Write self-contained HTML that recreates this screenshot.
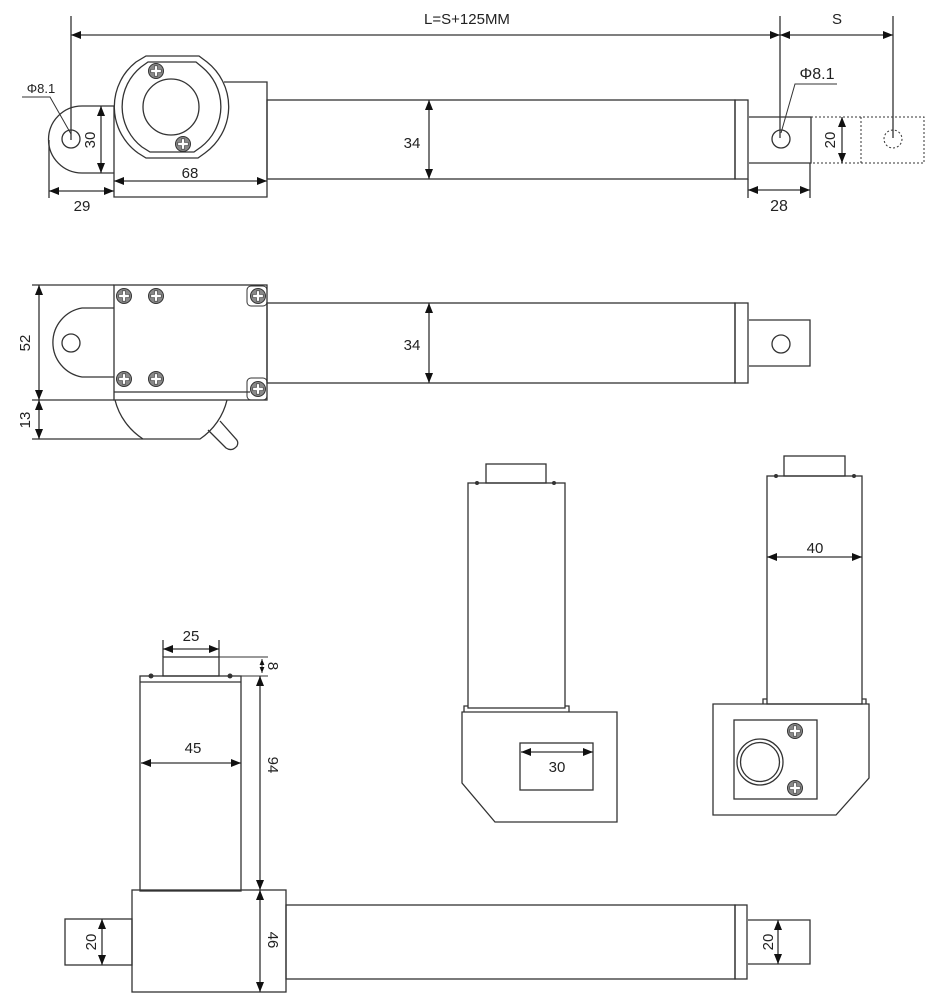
<!DOCTYPE html>
<html><head><meta charset="utf-8"><style>
html,body{margin:0;padding:0;background:#fff;}
svg{display:block;}
text{font-family:"Liberation Sans",Arial,sans-serif;fill:#222;}
</style></head><body>
<svg width="940" height="1000" viewBox="0 0 940 1000" xmlns="http://www.w3.org/2000/svg">
<defs>
<marker id="a" viewBox="0 0 10 8" refX="10" refY="4" markerWidth="10" markerHeight="8" markerUnits="userSpaceOnUse" orient="auto-start-reverse"><path d="M0,0L10,4L0,8z" fill="#111"/></marker>
<marker id="s" viewBox="0 0 10 8" refX="10" refY="4" markerWidth="6" markerHeight="5" markerUnits="userSpaceOnUse" orient="auto-start-reverse"><path d="M0,0L10,4L0,8z" fill="#111"/></marker>
<g id="sc"><circle r="7.5" fill="#888" stroke="#333" stroke-width="1"/><path d="M-1.5,-5.2h3v3.7h3.7v3h-3.7v3.7h-3v-3.7h-3.7v-3h3.7z" fill="#fff" stroke="#333" stroke-width="0.6"/></g>
</defs>
<g fill="none" stroke="#333" stroke-width="1.3">
<!-- TOP VIEW -->
<line x1="71" y1="16" x2="71" y2="140"/>
<line x1="780" y1="16" x2="780" y2="138"/>
<line x1="893" y1="16" x2="893" y2="138"/>
<line x1="71" y1="35" x2="780" y2="35" marker-start="url(#a)" marker-end="url(#a)"/>
<line x1="780" y1="35" x2="893" y2="35" marker-start="url(#a)" marker-end="url(#a)"/>
<path d="M114,106H82A33,33 0 0 0 82,173H114"/>
<circle cx="71" cy="139" r="9"/>
<path d="M146,56H199L207,62A57,57 0 0 1 205,153L198,158H146L138,153A57,57 0 0 1 136,62Z"/>
<path d="M148,62H196L202,67A51,51 0 0 1 201,147L194,152H150L142,147A51,51 0 0 1 141,67Z"/>
<circle cx="171" cy="107" r="28"/>
<path d="M224,82H267V197H114V106"/>
<rect x="267" y="100" width="468" height="79"/>
<rect x="735" y="100" width="13" height="79"/>
<path d="M749,117H811V163H749"/>
<circle cx="781" cy="139" r="9"/>
<g stroke-dasharray="2,2" stroke-width="1"><path d="M811,117H924V163H811M861,117V163"/><circle cx="893" cy="139" r="9"/></g>
<line x1="429" y1="100" x2="429" y2="179" marker-start="url(#a)" marker-end="url(#a)"/>
<line x1="101" y1="106" x2="101" y2="173" marker-start="url(#a)" marker-end="url(#a)"/>
<line x1="114" y1="181" x2="267" y2="181" marker-start="url(#a)" marker-end="url(#a)"/>
<line x1="49" y1="140" x2="49" y2="198"/>
<line x1="49" y1="191" x2="114" y2="191" marker-start="url(#a)" marker-end="url(#a)"/>
<line x1="748" y1="179" x2="748" y2="198"/><line x1="810" y1="163" x2="810" y2="198"/>
<line x1="748" y1="190" x2="810" y2="190" marker-start="url(#a)" marker-end="url(#a)"/>
<line x1="842" y1="117" x2="842" y2="163" marker-start="url(#a)" marker-end="url(#a)"/>
<path d="M22,97H50L71,134" stroke-width="1"/>
<path d="M837,84H795L781,133" stroke-width="1"/>
<!-- SECOND VIEW -->
<rect x="114" y="285" width="153" height="115"/>
<line x1="114" y1="392" x2="250" y2="392"/>
<path d="M114,308H82A35,35 0 0 0 82,377H114"/>
<circle cx="71" cy="343" r="9"/>
<rect x="267" y="303" width="468" height="80"/>
<rect x="735" y="303" width="13" height="80"/>
<path d="M749,320H810V366H749"/>
<circle cx="781" cy="344" r="9"/>
<line x1="429" y1="303" x2="429" y2="383" marker-start="url(#a)" marker-end="url(#a)"/>
<line x1="32" y1="285" x2="114" y2="285"/>
<line x1="32" y1="400" x2="114" y2="400"/>
<line x1="32" y1="439" x2="143" y2="439"/>
<line x1="39" y1="285" x2="39" y2="400" marker-start="url(#a)" marker-end="url(#a)"/>
<line x1="39" y1="400" x2="39" y2="439" marker-start="url(#a)" marker-end="url(#a)"/>
<path d="M115,400A65,65 0 0 0 143,439H200A65,65 0 0 0 227,400"/>
<path d="M208,430L226,448Q232,452 237,446Q239,442 236,439L220,421"/>
<!-- MIDDLE VIEW -->
<rect x="486" y="464" width="60" height="19"/>
<rect x="468" y="483" width="97" height="225"/>
<path d="M464,712V706H468M565,706H569V712"/>
<path d="M462,712H617V822H495L462,783Z"/>
<rect x="520" y="743" width="73" height="47"/>
<line x1="521" y1="752" x2="593" y2="752" marker-start="url(#a)" marker-end="url(#a)"/>
<!-- RIGHT VIEW -->
<rect x="784" y="456" width="61" height="20"/>
<rect x="767" y="476" width="95" height="228"/>
<path d="M763,704V699H767M862,699H866V704"/>
<path d="M713,704H869V778L836,815H713Z"/>
<rect x="734" y="720" width="83" height="79"/>
<circle cx="760" cy="762" r="23"/><circle cx="760" cy="762" r="19.5"/>
<line x1="767" y1="557" x2="862" y2="557" marker-start="url(#a)" marker-end="url(#a)"/>
<!-- BOTTOM VIEW -->
<rect x="163" y="657" width="56" height="19"/>
<rect x="140" y="676" width="101" height="215"/>
<line x1="140" y1="682" x2="241" y2="682"/>
<line x1="163" y1="640" x2="163" y2="657"/><line x1="219" y1="640" x2="219" y2="657"/>
<line x1="163" y1="649" x2="219" y2="649" marker-start="url(#a)" marker-end="url(#a)"/>
<line x1="219" y1="657" x2="268" y2="657" stroke-width="1"/>
<line x1="241" y1="676" x2="268" y2="676" stroke-width="1"/>
<line x1="262" y1="659" x2="262" y2="673" marker-start="url(#s)" marker-end="url(#s)" stroke-width="1"/>
<line x1="260" y1="676" x2="260" y2="890" marker-start="url(#a)" marker-end="url(#a)"/>
<line x1="141" y1="763" x2="241" y2="763" marker-start="url(#a)" marker-end="url(#a)"/>
<rect x="132" y="890" width="154" height="102"/>
<rect x="65" y="919" width="67" height="46"/>
<line x1="102" y1="919" x2="102" y2="965" marker-start="url(#a)" marker-end="url(#a)"/>
<line x1="260" y1="890" x2="260" y2="992" marker-start="url(#a)" marker-end="url(#a)"/>
<rect x="286" y="905" width="449" height="74"/>
<rect x="735" y="905" width="12" height="74"/>
<path d="M748,920H810V964H748"/>
<line x1="778" y1="920" x2="778" y2="964" marker-start="url(#a)" marker-end="url(#a)"/>
</g>
<g fill="#333"><circle cx="477" cy="483" r="2"/><circle cx="554" cy="483" r="2"/><circle cx="776" cy="476" r="2"/><circle cx="854" cy="476" r="2"/><circle cx="151" cy="676" r="2.5"/><circle cx="230" cy="676" r="2.5"/></g>
<use href="#sc" x="156" y="71"/><use href="#sc" x="183" y="144"/>
<rect x="247" y="286" width="20" height="20" rx="4" fill="none" stroke="#333"/>
<rect x="247" y="378" width="20" height="22" rx="4" fill="none" stroke="#333"/>
<use href="#sc" x="124" y="296"/><use href="#sc" x="156" y="296"/><use href="#sc" x="258" y="296"/>
<use href="#sc" x="124" y="379"/><use href="#sc" x="156" y="379"/><use href="#sc" x="258" y="389"/>
<use href="#sc" x="795" y="731"/><use href="#sc" x="795" y="788"/>
<g font-size="15" text-anchor="middle">
<text x="467" y="24" font-size="15">L=S+125MM</text>
<text x="837" y="24" font-size="15">S</text>
<text x="41" y="93" font-size="13">Φ8.1</text>
<text x="817" y="79" font-size="16">Φ8.1</text>
<text x="412" y="148">34</text>
<text x="412" y="350">34</text>
<text x="190" y="178">68</text>
<text x="82" y="211">29</text>
<text x="779" y="211" font-size="16">28</text>
<text x="557" y="772">30</text>
<text x="815" y="553">40</text>
<text x="191" y="641">25</text>
<text x="193" y="753">45</text>
<text transform="translate(95,140) rotate(-90)">30</text>
<text transform="translate(835,140) rotate(-90)">20</text>
<text transform="translate(30,343) rotate(-90)">52</text>
<text transform="translate(30,420) rotate(-90)">13</text>
<text transform="translate(96,942) rotate(-90)">20</text>
<text transform="translate(773,942) rotate(-90)">20</text>
<text transform="translate(268,666) rotate(90)">8</text>
<text transform="translate(268,765) rotate(90)">94</text>
<text transform="translate(268,940) rotate(90)">46</text>
</g>
</svg>
</body></html>
